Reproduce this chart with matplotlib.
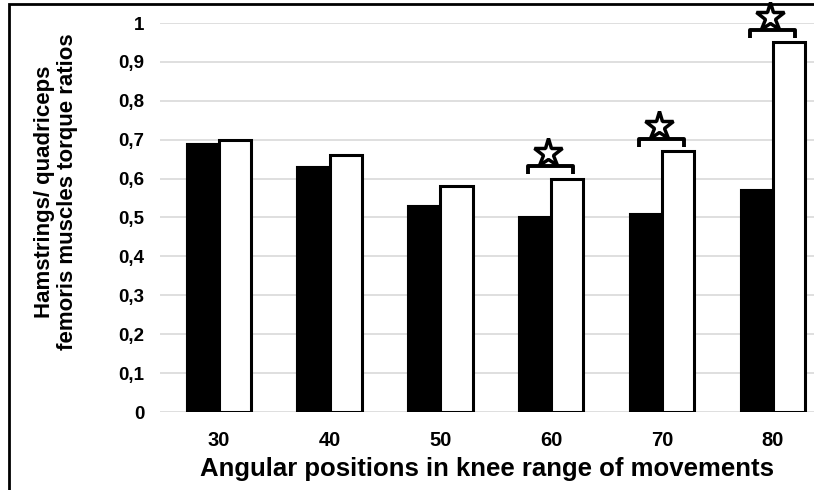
import numpy as np
import matplotlib.pyplot as plt
from matplotlib.patches import Rectangle

plt.rcParams['font.family'] = ['Liberation Sans', 'DejaVu Sans']
plt.rcParams['font.weight'] = 'bold'

# data
angles = ['30', '40', '50', '60', '70', '80']
ratio_black = [0.69, 0.63, 0.53, 0.50, 0.51, 0.57]
ratio_white = [0.70, 0.66, 0.58, 0.60, 0.67, 0.95]
significant = [False, False, False, True, True, True]

fig = plt.figure(figsize=(8.14, 4.9), dpi=100)
ax = fig.add_axes([160 / 814, 1 - 412 / 490, 1 - 160 / 814, (412 - 23) / 490])

x = np.arange(len(angles))
w = 0.29
ax.bar(x - w / 2, ratio_black, w, color='black', edgecolor='black', linewidth=1.5, zorder=3)
ax.bar(x + w / 2, ratio_white, w, color='white', edgecolor='black', linewidth=2.2, zorder=3)

# brackets and stars
for i in range(len(angles)):
    if not significant[i]:
        continue
    top = max(ratio_black[i], ratio_white[i]) + 0.032
    ax.plot([x[i] - 0.21, x[i] - 0.21, x[i] + 0.2, x[i] + 0.2],
            [top - 0.02, top, top, top - 0.02],
            color='black', lw=2.8, solid_capstyle='butt', clip_on=False, zorder=4)
    ax.plot(x[i] - 0.03, top + 0.033, marker='*', markersize=21,
            markerfacecolor='white', markeredgecolor='black', markeredgewidth=2.5,
            clip_on=False, zorder=5)

ax.set_ylim(0, 1)
ax.set_xlim(-0.53, 5.37)
ax.set_yticks(np.arange(0, 1.01, 0.1))
ax.set_yticklabels(['0'] + ['0,%d' % k for k in range(1, 10)] + ['1'], fontsize=13.5, fontweight='bold')
ax.set_xticks(x)
ax.set_xticklabels(angles, fontsize=14.5, fontweight='bold')
ax.tick_params(axis='both', length=0)
ax.tick_params(axis='y', pad=11)
ax.tick_params(axis='x', pad=14)
ax.yaxis.grid(True, color='#d9d9d9', lw=1.2, zorder=0)
ax.set_axisbelow(True)
for s in ax.spines.values():
    s.set_visible(False)

ax.set_xlabel('Angular positions in knee range of movements', fontsize=18.5,
              fontweight='bold', labelpad=5)
fig.text(56 / 814, 1 - 192 / 490, 'Hamstrings/ quadriceps\nfemoris muscles torque ratios',
         rotation=90, ha='center', va='center', fontsize=16, fontweight='bold',
         linespacing=1.15)

# outer frame
fig.patches.append(Rectangle((9 / 814, -0.05), 1.1, 1 - 4 / 490 + 0.05,
                             transform=fig.transFigure, fill=False,
                             edgecolor='black', lw=2, clip_on=False))

fig.savefig('out.png', dpi=100)
